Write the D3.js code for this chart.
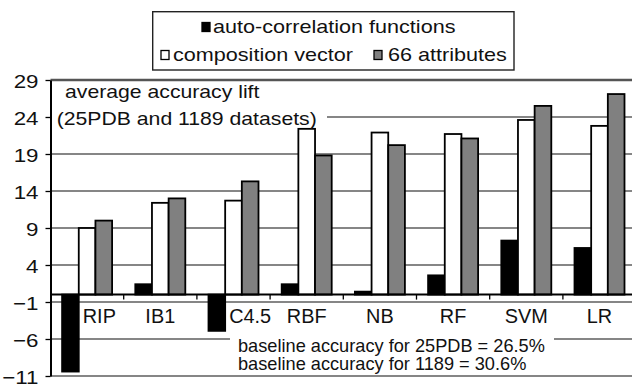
<!DOCTYPE html>
<html>
<head>
<meta charset="utf-8">
<script src="https://cdn.jsdelivr.net/npm/d3@7"></script>
<style>
  html, body { margin: 0; padding: 0; background: #fff; }
  svg { display: block; font-family: "Liberation Sans", Arial, sans-serif; }
</style>
</head>
<body>
<script>
// values
categories = ['RIP', 'IB1', 'C4.5', 'RBF', 'NB', 'RF', 'SVM', 'LR'];
autoCorr = [-10.4, 1.4, -4.9, 1.4, 0.4, 2.6, 7.3, 6.3];
compVector = [9.0, 12.4, 12.7, 22.4, 21.9, 21.7, 23.6, 22.8];
attrs66 = [10.0, 13.0, 15.3, 18.8, 20.2, 21.1, 25.5, 27.1];
seriesNames = ['auto-correlation functions', 'composition vector', '66 attributes'];
yTicks = [-11, -6, -1, 4, 9, 14, 19, 24, 29];

width = 632;
height = 384;
fills = ['#000000', '#ffffff', '#808080'];
FONT = '"Liberation Sans", Arial, sans-serif';

svg = d3.select('body').append('svg')
	.attr('width', width)
	.attr('height', height);

// plot runs past the right edge of the picture, like the original crop
x0 = d3.scaleBand().domain(categories).range([50.5, 636.1]);
x1 = d3.scaleBand().domain([0, 1, 2]).range([11.6, 61.6]);
y = d3.scaleLinear().domain([-11, 29]).range([376, 80]);

// text stretched sideways a little, the source font is wider than Arial
function stretchText(g, x, yy, str, size, sx, anchor){
	return g.append('text')
		.attr('transform', `translate(${x},${yy}) scale(${sx},1)`)
		.attr('font-size', size)
		.attr('text-anchor', anchor || 'start')
		.attr('fill', '#111')
		.text(str);
}

// gridlines
svg.append('g').selectAll('line')
	.data(yTicks)
	.enter().append('line')
	.attr('x1', 50.5).attr('x2', width)
	.attr('y1', d => y(d)).attr('y2', d => y(d))
	.attr('stroke', d => d == 29 ? '#555' : '#5e5e5e')
	.attr('stroke-width', d => d == 29 ? 2.6 : 1.3);

// white boxes behind the two notes
svg.append('rect').attr('x', 52).attr('y', 84).attr('width', 275).attr('height', 43).attr('fill', '#fff');
svg.append('rect').attr('x', 230).attr('y', 333).attr('width', 324).attr('height', 41).attr('fill', '#fff');

// bars
rows = categories.map((c, i) => [autoCorr[i], compVector[i], attrs66[i]]);
groups = svg.append('g').selectAll('g')
	.data(rows)
	.enter().append('g')
	.attr('transform', (d, i) => `translate(${x0(categories[i])},0)`);
groups.selectAll('rect')
	.data(d => d.map((v, k) => ({v: v, k: k})))
	.enter().append('rect')
	.attr('x', d => x1(d.k))
	.attr('width', x1.bandwidth())
	.attr('y', d => y(Math.max(0, d.v)))
	.attr('height', d => Math.abs(y(d.v) - y(0)))
	.attr('fill', d => fills[d.k])
	.attr('stroke', '#000')
	.attr('stroke-width', 1.8);

// zero line and category boundary ticks
svg.append('line')
	.attr('x1', 50.5).attr('x2', width)
	.attr('y1', y(0)).attr('y2', y(0))
	.attr('stroke', '#000').attr('stroke-width', 2);
svg.append('g').selectAll('line')
	.data(categories.slice(1))
	.enter().append('line')
	.attr('x1', d => x0(d)).attr('x2', d => x0(d))
	.attr('y1', y(0)).attr('y2', y(0) + 5)
	.attr('stroke', '#000').attr('stroke-width', 1.3);

// y axis
yAxis = svg.append('g')
	.attr('transform', 'translate(50.5,0)')
	.call(d3.axisLeft(y).tickValues(yTicks).tickSize(5).tickSizeOuter(0));
yAxis.select('.domain').attr('stroke', '#000').attr('stroke-width', 2);
yAxis.selectAll('.tick line').attr('stroke', '#000').attr('stroke-width', 1.3);
yAxis.selectAll('.tick text')
	.attr('x', -10)
	.attr('dy', '0.38em')
	.attr('transform', 'scale(1.2,1)')
	.attr('font-size', 18.6)
	.attr('font-family', FONT)
	.attr('fill', '#111');

// category labels, moved clear of a bar that hangs below zero
labels = svg.append('g');
categories.forEach((c, i) => {
	if(autoCorr[i] < 0){
		stretchText(labels, x0(c) + x1(0) + x1.bandwidth() + 4, y(0) + 28.7, c, 19.5, 1.02, 'start');
	}else{
		stretchText(labels, x0(c) + x0.bandwidth() / 2, y(0) + 28.7, c, 19.5, 1.02, 'middle');
	}
});

// notes
notes = svg.append('g');
stretchText(notes, 65, 98, 'average accuracy lift', 18.6, 1.14);
stretchText(notes, 56.7, 125, '(25PDB and 1189 datasets)', 18.6, 1.14);
stretchText(notes, 238, 351.7, 'baseline accuracy for 25PDB = 26.5%', 18.2, 1.0);
stretchText(notes, 238, 370, 'baseline accuracy for 1189 = 30.6%', 18.2, 1.0);

// legend
legend = svg.append('g');
legend.append('rect')
	.attr('x', 152.7).attr('y', 11.7)
	.attr('width', 361.3).attr('height', 58.3)
	.attr('fill', '#fff')
	.attr('stroke', '#222').attr('stroke-width', 1.4);
keys = [{x: 202, y: 22.5}, {x: 161, y: 50.5}, {x: 374, y: 50.5}];
textPos = [{x: 213, y: 33.3}, {x: 173, y: 61}, {x: 388, y: 61}];
seriesNames.forEach((name, k) => {
	legend.append('rect')
		.attr('x', keys[k].x).attr('y', keys[k].y)
		.attr('width', 8).attr('height', 9)
		.attr('fill', fills[k])
		.attr('stroke', '#000').attr('stroke-width', 1.3);
	stretchText(legend, textPos[k].x, textPos[k].y, name, 18, 1.2);
});
</script>
</body>
</html>
